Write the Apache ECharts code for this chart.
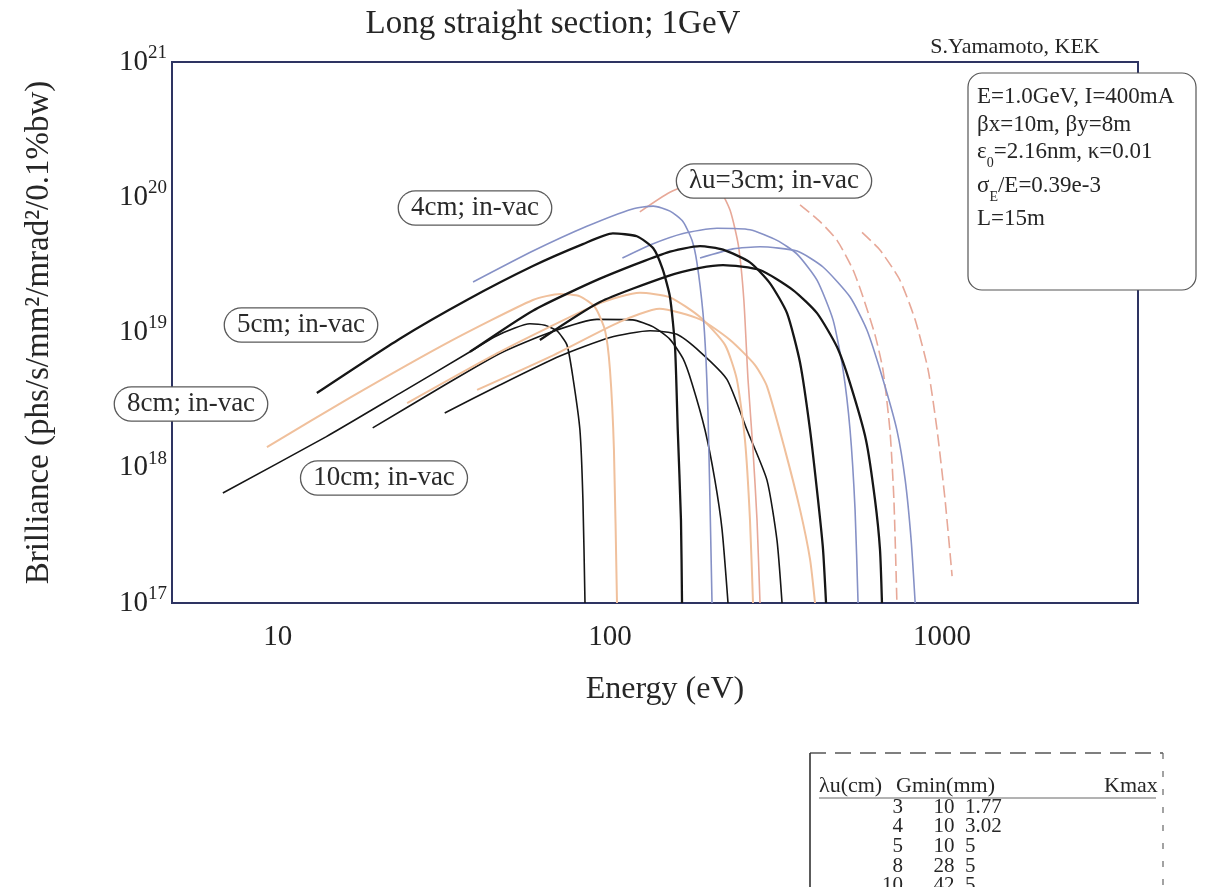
<!DOCTYPE html>
<html><head><meta charset="utf-8">
<script src="https://cdn.jsdelivr.net/npm/echarts@6/dist/echarts.min.js"></script>
<style>html,body{margin:0;padding:0;background:#fff}#c{width:1224px;height:887px}</style>
</head><body><div id="c"></div>
<script>
const SERIF = '"Liberation Serif","DejaVu Serif",serif';

// ---- x tick labels (eV) and y decades ----
const xTickLabels = [10, 100, 1000];
const yDecades = [17, 18, 19, 20, 21];

// ---- tuning curves [energy eV, brilliance] ----
// 10 cm period (black)
const cm10_h1 = [[6.83,6.5e17],[14.0,1.7e18],[23.3,3.55e18],[37.9,7.2e18],[45.0,9.3e18],[51.7,1.08e19],[57.4,1.16e19],[63.7,1.13e19],[69.2,1.03e19],[74.2,8.1e18],[77.4,4.6e18],[81.2,1.9e18],[82.9,5.8e17],[84.1,1e17]];
const cm10_h3 = [[19.3,1.97e18],[31.8,4.09e18],[46.6,7.0e18],[65.9,1.0e19],[91.4,1.25e19],[117,1.24e19],[135,1.1e19],[151.6,8.9e18],[166,6.4e18],[176.6,4.2e18],[193.3,1.9e18],[207,8.1e17],[217.5,3.5e17],[226.7,1e17]];
const cm10_h5 = [[31.8,2.54e18],[46.6,4.09e18],[70.7,6.7e18],[100,9.2e18],[132,1.03e19],[159,9.7e18],[186.7,7.2e18],[225,4.5e18],[258.6,1.9e18],[297,8.1e17],[318.4,2.9e17],[329.7,1e17]];
// 5 cm period (black)
const cm5_h1 = [[13.1,3.57e18],[23.3,9.0e18],[37.1,1.74e19],[58.6,3.1e19],[82.9,4.5e19],[102,5.4e19],[120.5,5.15e19],[135,4.2e19],[144,2.95e19],[151.6,1.83e19],[157,7.8e18],[160,1.9e18],[163.6,4.1e17],[164.8,1e17]];
const cm5_h3 = [[37.9,7.2e18],[58.6,1.45e19],[93.3,2.5e19],[148.5,3.9e19],[186.7,4.35e19],[219,4.1e19],[264,3.3e19],[303,2.32e19],[341.3,1.39e19],[373.5,6.0e18],[400.4,1.9e18],[423.1,5.8e17],[438,2.5e17],[447.3,1e17]];
const cm5_h5 = [[61.5,8.8e18],[93.3,1.68e19],[148.5,2.6e19],[186.7,3.0e19],[219,3.15e19],[283,2.9e19],[355.8,2.06e19],[420.2,1.39e19],[482.8,7.8e18],[528.4,4.2e18],[590.2,1.6e18],[628.1,5.8e17],[650.1,2.5e17],[659.2,1e17]];
// 4 cm period (blue)
const cm4_h1 = [[38.7,2.36e19],[58.6,4.0e19],[85.2,6.1e19],[117,8.2e19],[135,8.6e19],[151.6,7.9e19],[166,6.6e19],[176.6,4.8e19],[182.8,3.27e19],[190.6,1.39e19],[194.6,6.3e18],[197.3,2.54e18],[200,5.8e17],[202.9,1e17]];
const cm4_h3 = [[109,3.55e19],[132,4.44e19],[166,5.4e19],[210,5.9e19],[264,5.75e19],[318.4,4.8e19],[365.9,3.8e19],[420.2,2.44e19],[469.6,1.24e19],[503.3,5.3e18],[528.4,1.9e18],[547,4.9e17],[558.5,1e17]];
const cm4_h5 = [[186.7,3.55e19],[234.7,4.15e19],[283,4.3e19],[365.9,4.0e19],[438,3.05e19],[528.4,1.83e19],[594.3,1.04e19],[663.7,4.5e18],[731.1,1.9e18],[774.5,8.1e17],[807.2,2.9e17],[829.8,1e17]];
// 8 cm period (light orange)
const cm8_h1 = [[9.27,1.42e18],[16.5,3.3e18],[33.0,8.6e18],[58.6,1.74e19],[70.7,1.93e19],[81.2,1.85e19],[90.1,1.54e19],[96.6,1.04e19],[100,5.3e18],[102.8,1.35e18],[105,1e17]];
const cm8_h3 = [[24.5,3.01e18],[46.6,7.2e18],[93.3,1.65e19],[123,1.97e19],[151.6,1.82e19],[186.7,1.3e19],[222,8.1e18],[241,4.5e18],[255,1.6e18],[264,4.1e17],[269.6,1e17]];
const cm8_h5 = [[39.8,3.76e18],[65.9,6.6e18],[107,1.2e19],[141,1.5e19],[186.7,1.25e19],[230,8.8e18],[273.4,5.75e18],[297,4.0e18],[336.6,1.35e18],[373.5,4.9e17],[400.4,2.1e17],[414.4,1e17]];
// 3 cm period (salmon)
const cm3_h1 = [[123,7.8e19],[151.6,1.09e20],[186.7,1.3e20],[212,1.17e20],[230,8.0e19],[243.6,4.4e19],[253,1.74e19],[260.4,4.5e18],[269.6,1.35e18],[277.2,4.1e17],[283,1e17]];
const cm3_h3 = [[373.5,8.8e19],[429,6.6e19],[482.8,4.8e19],[539.5,2.9e19],[578.1,1.83e19],[628.1,9.6e18],[663.7,5.3e18],[696.6,1.9e18],[716.1,5.8e17],[731.1,1e17]];
const cm3_h5 = [[574.1,5.5e19],[650.1,4.07e19],[746.5,2.44e19],[829.8,1.24e19],[907.8,5.3e18],[966,1.9e18],[1021,5.8e17],[1072,1.58e17]];

// ---- undulator table ----
const tableHeader = ['λu(cm)', 'Gmin(mm)', 'Kmax'];
const tablePeriods = ['3','4','5','8','10'];
const tableGmin = ['10','10','10','28','42'];
const tableKmax = ['1.77','3.02','5','5','5'];

// ---- parameter box lines ----
const paramLines = ['E=1.0GeV, I=400mA','βx=10m, βy=8m','ε{sub|0}=2.16nm, κ=0.01','σ{sub|E}/E=0.39e-3','L=15m'];

const BLACK = '#161616', BLUE = '#8691c6', ORANGE = '#f0c09c', SALMON = '#e7a898';
const curveDefs = [
  {name:'10cm h1', data:cm10_h1, color:BLACK, width:1.6},
  {name:'10cm h3', data:cm10_h3, color:BLACK, width:1.6},
  {name:'10cm h5', data:cm10_h5, color:BLACK, width:1.6},
  {name:'8cm h1', data:cm8_h1, color:ORANGE, width:2},
  {name:'8cm h3', data:cm8_h3, color:ORANGE, width:2},
  {name:'8cm h5', data:cm8_h5, color:ORANGE, width:2},
  {name:'3cm h1', data:cm3_h1, color:SALMON, width:1.6},
  {name:'3cm h3', data:cm3_h3, color:SALMON, width:1.6, dash:[12,5]},
  {name:'3cm h5', data:cm3_h5, color:SALMON, width:1.6, dash:[12,5]},
  {name:'4cm h1', data:cm4_h1, color:BLUE, width:1.6},
  {name:'4cm h3', data:cm4_h3, color:BLUE, width:1.6},
  {name:'4cm h5', data:cm4_h5, color:BLUE, width:1.6},
  {name:'5cm h1', data:cm5_h1, color:BLACK, width:2.3},
  {name:'5cm h3', data:cm5_h3, color:BLACK, width:2.3},
  {name:'5cm h5', data:cm5_h5, color:BLACK, width:2.3}
];

function isPow10(v){ const l = Math.log10(v); return Math.abs(l - Math.round(l)) < 1e-6; }

const series = curveDefs.map(c => ({
  name: c.name, type:'line', data:c.data, showSymbol:false, symbol:'none',
  smooth:0.2, clip:true, silent:true,
  lineStyle:{color:c.color, width:c.width, type: c.dash || 'solid'}
}));

const txt = (x, y, text, size, extra) => Object.assign({
  type:'text', x, y, z:50,
  style:Object.assign({text, font: size + 'px ' + SERIF, fill:'#262626', align:'left', verticalAlign:'middle'}, extra && extra.style || {})
}, extra && extra.el || {});

const labelBox = (x, y, text) => ({
  type:'text', x, y, z:60,
  style:{text, font:'27px ' + SERIF, fill:'#2a2a2a', align:'center', verticalAlign:'middle',
    backgroundColor:'#fff', borderColor:'#5a5a5a', borderWidth:1.3, borderRadius:17, padding:[4,12,2,12]}
});

const graphic = [];
graphic.push(txt(553, 24, 'Long straight section; 1GeV', 33, {style:{align:'center'}}));
graphic.push(txt(1015, 47, 'S.Yamamoto, KEK', 22, {style:{align:'center'}}));
graphic.push({type:'rect', z:40, shape:{x:968, y:73, width:228, height:217, r:14},
  style:{fill:'#fff', stroke:'#555', lineWidth:1.2}});
const paramY = [97, 125, 152, 186, 219];
paramLines.forEach((t, i) => graphic.push({type:'text', x:977, y:paramY[i], z:50,
  style:{text:t, font:'23px ' + SERIF, fill:'#262626', verticalAlign:'middle',
    rich:{sub:{font:'14px ' + SERIF, fill:'#262626', padding:[22,0,0,0]}}}}));

graphic.push(labelBox(774, 181, 'λu=3cm; in-vac'));
graphic.push(labelBox(475, 208, '4cm; in-vac'));
graphic.push(labelBox(301, 325, '5cm; in-vac'));
graphic.push(labelBox(191, 404, '8cm; in-vac'));
graphic.push(labelBox(384, 478, '10cm; in-vac'));

graphic.push(txt(665, 690, 'Energy (eV)', 32, {style:{align:'center'}}));

// table
graphic.push({type:'line', z:40, shape:{x1:810, y1:753, x2:1163, y2:753}, style:{stroke:'#555', lineWidth:1.5, lineDash:[16,9]}});
graphic.push({type:'line', z:40, shape:{x1:810, y1:753, x2:810, y2:887}, style:{stroke:'#333', lineWidth:1.6}});
graphic.push({type:'line', z:40, shape:{x1:1163, y1:753, x2:1163, y2:887}, style:{stroke:'#666', lineWidth:1.2, lineDash:[6,12]}});
const headerX = [819, 896, 1104];
tableHeader.forEach((h, i) => graphic.push(txt(headerX[i], 786, h, 22)));
graphic.push({type:'line', z:40, shape:{x1:819, y1:798, x2:1156, y2:798}, style:{stroke:'#666', lineWidth:1}});
const rowY = [807, 826, 846, 866, 885];
tablePeriods.forEach((p, i) => {
  graphic.push(txt(903, rowY[i], p, 21, {style:{align:'right'}}));
  graphic.push(txt(944, rowY[i], tableGmin[i], 21, {style:{align:'center'}}));
  graphic.push(txt(965, rowY[i], tableKmax[i], 21));
});

const option = {
  animation:false,
  backgroundColor:'#fff',
  grid:{left:172, right:86, top:62, bottom:284, show:true, borderColor:'#2e3462', borderWidth:2},
  xAxis:{type:'log', logBase:10, min:4.8, max:3890,
    axisLine:{show:false}, axisTick:{show:false}, splitLine:{show:false}, minorTick:{show:false},
    axisLabel:{margin:20, fontFamily:SERIF, fontSize:29, color:'#222',
      formatter:v => (isPow10(v) && xTickLabels.includes(Math.round(v))) ? String(Math.round(v)) : ''}},
  yAxis:{type:'log', logBase:10, min:1e17, max:1e21,
    axisLine:{show:false}, axisTick:{show:false}, splitLine:{show:false},
    name:'Brilliance (phs/s/mm²/mrad²/0.1%bw)', nameLocation:'middle', nameGap:116, nameRotate:90,
    nameTextStyle:{fontFamily:SERIF, fontSize:33, color:'#262626'},
    axisLabel:{margin:5, color:'#222',
      formatter:v => { const e = Math.round(Math.log10(v)); return yDecades.includes(e) ? '{b|10}{s|' + e + '}' : ''; },
      rich:{b:{fontFamily:SERIF, fontSize:29, color:'#222'}, s:{fontFamily:SERIF, fontSize:19, color:'#222', padding:[0,0,18,0]}}}},
  series,
  graphic
};
const chart = echarts.init(document.getElementById('c'));
chart.setOption(option);
</script></body></html>
